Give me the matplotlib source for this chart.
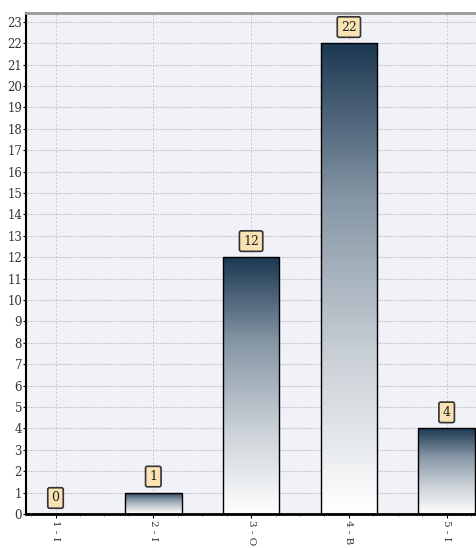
import numpy as np
import matplotlib
matplotlib.use("Agg")
import matplotlib.pyplot as plt
from matplotlib.colors import LinearSegmentedColormap
from matplotlib.patches import Rectangle

categorias = ["1 - I", "2 - I", "3 - O", "4 - B", "5 - I"]
valores = [0, 1, 12, 22, 4]

fig = plt.figure(figsize=(4.76, 5.48), dpi=100)
ax = fig.add_axes([0.055, 0.062, 0.945, 0.914])
ax.set_facecolor("#f1f1f8")

x = np.arange(1, len(valores) + 1)
ancho = 0.58

# degradado: oscuro arriba, blanco abajo
cmap = LinearSegmentedColormap.from_list("barra", ["#ffffff", "#c9d0d6", "#8797a6", "#1c3852"])
grad = np.linspace(0, 1, 256).reshape(-1, 1)

barras = ax.bar(x, valores, width=ancho, color="none", edgecolor="black", linewidth=1.0, zorder=3)
for b, v in zip(barras, valores):
    if v <= 0:
        continue
    x0 = b.get_x()
    img = ax.imshow(grad, cmap=cmap, aspect="auto", origin="lower",
                    extent=[x0, x0 + ancho, 0, v], zorder=2, interpolation="bilinear")
    clip = Rectangle((x0, 0), ancho, v, transform=ax.transData)
    img.set_clip_path(clip)

for xi, v in zip(x, valores):
    ax.text(xi, v + 0.75, str(v), ha="center", va="center", fontsize=9,
            family="DejaVu Serif", color="#222222", zorder=5,
            bbox=dict(boxstyle="round,pad=0.3,rounding_size=0.15", fc="#f9e2b4", ec="#333333", lw=1.2))

ax.set_xlim(0.7, 5.3)
ax.set_ylim(0, 23.4)
ax.set_yticks(range(0, 24))
ax.set_xticks(x)
ax.set_xticks(np.arange(0.75, 5.3, 0.25), minor=True)
ax.set_xticklabels(categorias, rotation=-90, fontsize=7.5, family="DejaVu Serif", color="#333333")
ax.tick_params(axis="y", labelsize=8.5, length=2, pad=1, labelcolor="#333333")
ax.tick_params(axis="x", length=3, pad=1)
ax.tick_params(axis="x", which="minor", length=2, color="#bbbbbb")
for t in ax.get_yticklabels():
    t.set_family("DejaVu Serif")

ax.yaxis.grid(True, linestyle=(0, (1, 1)), color="#b8b8c0", linewidth=0.8, zorder=1)
ax.xaxis.grid(True, linestyle=(0, (2, 2)), color="#c8c8d0", linewidth=0.7, zorder=1)
ax.set_axisbelow(True)

ax.spines["left"].set_linewidth(1.5)
ax.spines["bottom"].set_linewidth(2.0)
ax.spines["top"].set_color("#999999")
ax.spines["top"].set_linewidth(2.0)
ax.spines["right"].set_visible(False)

fig.savefig("out.png", dpi=100)
